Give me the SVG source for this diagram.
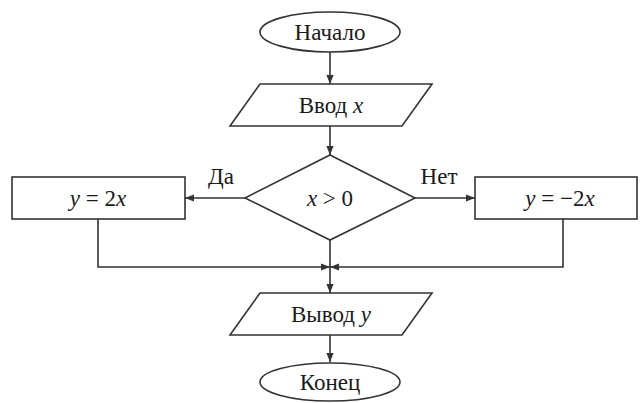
<svg xmlns="http://www.w3.org/2000/svg" width="643" height="403" viewBox="0 0 643 403" font-family="'Liberation Serif', 'DejaVu Serif', serif">
<style>
.s{fill:#fff;stroke:#333;stroke-width:1.6}
.c{fill:none;stroke:#333;stroke-width:1.6}
text{font-family:'Liberation Serif','DejaVu Serif',serif;font-size:23px;fill:#1a1a1a;text-anchor:middle}
.i{font-style:italic}
</style>
<defs>
<marker id="a" viewBox="0 0 10 10" refX="10" refY="5" markerWidth="9" markerHeight="9" markerUnits="userSpaceOnUse" orient="auto">
<path d="M0,1 L10,5 L0,9 z" fill="#333"/>
</marker>
</defs>
<rect width="643" height="403" fill="#fff"/>
<g id="connectors">
<line class="c" x1="330" y1="52" x2="330" y2="84" marker-end="url(#a)"/>
<line class="c" x1="330" y1="126" x2="330" y2="155" marker-end="url(#a)"/>
<line class="c" x1="245" y1="198" x2="185" y2="198" marker-end="url(#a)"/>
<line class="c" x1="415" y1="198" x2="475" y2="198" marker-end="url(#a)"/>
<polyline class="c" points="98,219 98,267 330,267" marker-end="url(#a)"/>
<polyline class="c" points="563,219 563,267 330,267" marker-end="url(#a)"/>
<line class="c" x1="330" y1="240" x2="330" y2="293" marker-end="url(#a)"/>
<line class="c" x1="330" y1="335" x2="330" y2="362" marker-end="url(#a)"/>
<text x="221" y="184">Да</text>
<text x="439" y="184">Нет</text>
</g>
<g id="start">
<ellipse class="s" cx="330" cy="32" rx="70" ry="20"/>
<text x="330" y="40">Начало</text>
</g>
<g id="input">
<polygon class="s" points="260,84 432,84 402,126 230,126"/>
<text x="331" y="113">Ввод <tspan class="i">x</tspan></text>
</g>
<g id="decision">
<polygon class="s" points="330,155 415,198 330,240 245,198"/>
<text x="330" y="206"><tspan class="i">x</tspan> &gt; 0</text>
</g>
<g id="yes">
<rect class="s" x="12" y="177" width="173" height="42"/>
<text x="98" y="206"><tspan class="i">y</tspan> = 2<tspan class="i">x</tspan></text>
</g>
<g id="no">
<rect class="s" x="475" y="177" width="162" height="42"/>
<text x="560" y="206"><tspan class="i">y</tspan> = −2<tspan class="i">x</tspan></text>
</g>
<g id="output">
<polygon class="s" points="260,293 432,293 402,335 230,335"/>
<text x="331" y="322">Вывод <tspan class="i">y</tspan></text>
</g>
<g id="end">
<ellipse class="s" cx="330" cy="382" rx="70" ry="19"/>
<text x="330" y="390">Конец</text>
</g>
</svg>
